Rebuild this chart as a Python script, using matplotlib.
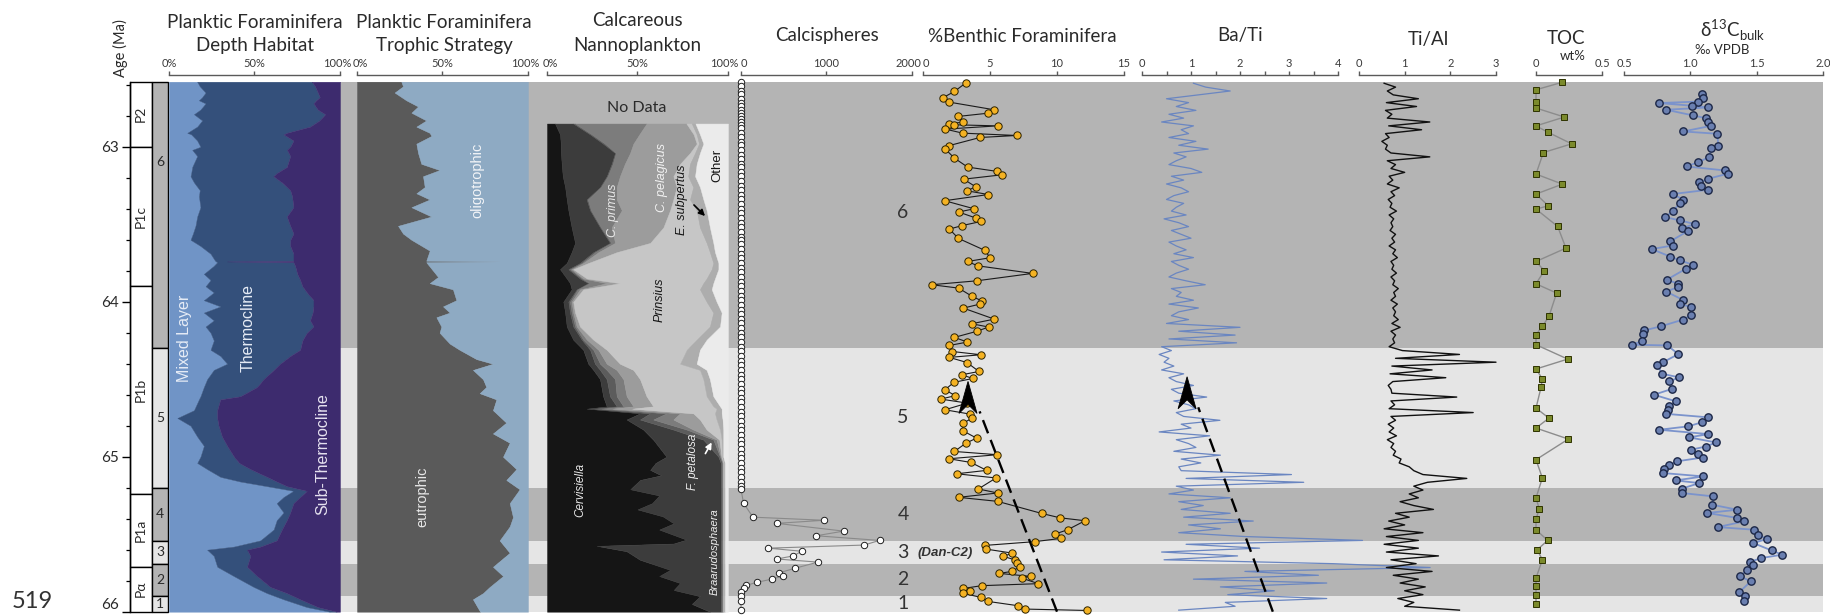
import numpy as np
import matplotlib
matplotlib.use("Agg")
import matplotlib.pyplot as plt
from matplotlib import font_manager as fm
from matplotlib.patches import Rectangle, Polygon, FancyArrowPatch
from matplotlib.transforms import IdentityTransform, ScaledTranslation

# ----------------------------------------------------------------- data ----
# biostratigraphic zones
zone_names = ['P2', 'P1c', 'P1b', 'P1a', 'Pα']
zone_top = [62.58, 63.0, 63.9, 65.24, 65.71]
zone_bottom = [63.0, 63.9, 65.24, 65.71, 66.0]

# intervals (grey bands)
band_labels = ['6', '5', '4', '3', '2', '1']
band_top = [62.58, 64.30, 65.20, 65.545, 65.69, 65.90]
band_bottom = [64.30, 65.20, 65.545, 65.69, 65.90, 66.0]
band_shade = ['dark', 'light', 'dark', 'light', 'dark', 'light']

# planktic foraminifera depth habitat (%)
depth_age = [
    62.58, 62.61, 62.65, 62.68, 62.70, 62.72, 62.76, 62.79, 62.83, 62.87,
    62.91, 62.92, 62.96, 63.00, 63.02, 63.06, 63.13, 63.17, 63.19, 63.23,
    63.28, 63.32, 63.39, 63.45, 63.51, 63.56, 63.60, 63.64, 63.69, 63.736,
    63.740, 63.745, 63.77, 63.82, 63.86, 63.90, 63.94, 63.99, 64.03, 64.07,
    64.12, 64.16, 64.20, 64.25, 64.31, 64.35, 64.40, 64.44, 64.50, 64.55,
    64.61, 64.63, 64.70, 64.72, 64.75, 64.80, 64.87, 64.93, 65.00, 65.04,
    65.08, 65.13, 65.16, 65.19, 65.22, 65.26, 65.30, 65.36, 65.41, 65.47,
    65.54, 65.58, 65.60, 65.64, 65.71, 65.77, 65.84, 65.88, 65.92, 65.97,
    66.00]
mixed_layer = [
    16.5, 18.0, 21.4, 19.4, 17.5, 21.4, 18.4, 14.6, 19.4, 16.5,
    10.7, 13.0, 16.5, 18.4, 13.6, 16.5, 13.6, 13.0, 12.6, 14.6,
    18.0, 17.5, 18.4, 16.5, 15.5, 14.0, 12.6, 18.4, 24.3, 27.0,
    27.5, 28.2, 26.0, 20.4, 24.3, 21.4, 26.2, 20.4, 30.1, 20.4,
    26.2, 21.4, 24.3, 26.2, 24.3, 30.1, 34.0, 26.2, 22.3, 20.4,
    18.4, 17.5, 14.6, 10.7, 4.9, 12.6, 16.5, 20.4, 18.4, 16.5,
    22.3, 30.1, 41.7, 57.3, 72.8, 67.0, 63.0, 67.0, 63.0, 61.2,
    53.4, 37.9, 22.3, 26.2, 28.2, 37.9, 49.5, 57.3, 67.0, 80.6,
    94.0]
thermocline = [
    67.0, 67.4, 65.6, 68.8, 68.5, 63.1, 68.6, 76.7, 68.6, 66.0,
    58.2, 54.0, 56.3, 52.5, 55.4, 54.4, 55.3, 50.0, 48.4, 51.4,
    52.9, 54.5, 54.4, 52.4, 55.4, 58.8, 58.4, 52.5, 48.5, 45.8,
    6.5, 44.6, 47.8, 54.6, 52.4, 56.6, 54.4, 64.1, 54.4, 63.6,
    56.3, 63.1, 56.3, 51.8, 52.4, 40.8, 31.0, 35.0, 33.0, 31.1,
    23.3, 12.5, 13.6, 17.5, 23.3, 16.4, 14.5, 13.6, 19.6, 24.5,
    25.3, 27.2, 21.3, 11.6, 7.8, 9.7, 9.8, 3.9, 5.9, 4.8,
    9.6, 15.5, 23.3, 21.4, 17.4, 13.6, 9.7, 11.6, 9.7, 6.4,
    4.0]
sub_thermocline = [
    16.5, 14.6, 13.0, 11.8, 14.0, 15.5, 13.0, 8.7, 12.0, 17.5,
    31.1, 33.0, 27.2, 29.1, 31.0, 29.1, 31.1, 37.0, 39.0, 34.0,
    29.1, 28.0, 27.2, 31.1, 29.1, 27.2, 29.0, 29.1, 27.2, 27.2,
    66.0, 27.2, 26.2, 25.0, 23.3, 22.0, 19.4, 15.5, 15.5, 16.0,
    17.5, 15.5, 19.4, 22.0, 23.3, 29.1, 35.0, 38.8, 44.7, 48.5,
    58.3, 70.0, 71.8, 71.8, 71.8, 71.0, 69.0, 66.0, 62.0, 59.0,
    52.4, 42.7, 37.0, 31.1, 19.4, 23.3, 27.2, 29.1, 31.1, 34.0,
    37.0, 46.6, 54.4, 52.4, 54.4, 48.5, 40.8, 31.1, 23.3, 13.0,
    2.0]

# planktic foraminifera trophic strategy (% eutrophic)
trophic_age = [
    62.58, 62.61, 62.65, 62.70, 62.74, 62.78, 62.83, 62.87, 62.91, 62.93,
    62.98, 63.04, 63.11, 63.15, 63.19, 63.26, 63.30, 63.34, 63.39, 63.45,
    63.51, 63.56, 63.60, 63.67, 63.735, 63.740, 63.745, 63.84, 63.88, 63.92,
    63.99, 64.03, 64.07, 64.10, 64.16, 64.20, 64.27, 64.31, 64.37, 64.40,
    64.44, 64.50, 64.55, 64.59, 64.63, 64.70, 64.78, 64.85, 64.91, 65.00,
    65.08, 65.15, 65.21, 65.30, 65.39, 65.45, 65.54, 65.62, 65.71, 65.77,
    65.84, 65.88, 65.92, 66.00]
eutrophic = [
    25.9, 26.9, 22.0, 28.8, 35.7, 31.8, 40.5, 34.7, 42.5, 43.5,
    34.7, 35.7, 37.6, 48.3, 38.6, 39.6, 34.7, 42.5, 31.8, 43.5,
    24.0, 26.9, 31.8, 42.5, 40.5, 83.4, 40.5, 47.4, 42.5, 56.1,
    58.1, 50.3, 54.2, 46.4, 49.3, 48.3, 54.2, 60.0, 69.8, 79.5,
    67.8, 73.7, 75.6, 71.7, 81.5, 79.5, 87.3, 79.5, 89.3, 85.4,
    93.2, 87.3, 95.1, 89.3, 91.2, 89.3, 83.4, 89.3, 79.5, 85.4,
    77.6, 73.7, 67.8, 72.0]

# calcareous nannoplankton (%)
nanno_age = [
    62.85, 62.92, 62.98, 63.04, 63.11, 63.19, 63.26, 63.34, 63.41, 63.52,
    63.62, 63.68, 63.75, 63.79, 63.85, 63.88, 63.92, 64.00, 64.07, 64.16,
    64.245, 64.31, 64.40, 64.44, 64.50, 64.61, 64.675, 64.69, 64.72, 64.76,
    64.825, 64.89, 65.00, 65.04, 65.085, 65.12, 65.15, 65.21, 65.25, 65.30,
    65.34, 65.385, 65.43, 65.47, 65.535, 65.56, 65.575, 65.61, 65.665, 65.73,
    65.77, 65.815, 65.86, 65.90, 65.95, 66.00]
cervisiella = [
    4.4, 7.2, 7.6, 7.7, 8.1, 8.7, 10.0, 10.9, 11.8, 13.6,
    15.5, 13.6, 10.9, 7.2, 10.9, 12.7, 13.6, 9.0, 10.0, 10.9,
    14.5, 20.0, 22.8, 25.6, 29.3, 31.0, 33.0, 21.9, 51.4, 44.0,
    53.2, 58.7, 66.0, 60.0, 57.0, 63.0, 51.4, 46.0, 62.0, 58.0,
    50.0, 64.0, 70.0, 62.0, 77.0, 70.0, 27.4, 44.0, 51.4, 68.0,
    62.0, 73.5, 70.0, 84.5, 80.0, 90.0]
braarudosphaera = [
    10.1, 16.6, 23.4, 29.9, 27.6, 24.3, 19.3, 11.0, 12.0, 15.7,
    19.3, 12.0, 7.3, 4.6, 7.3, 10.1, 2.8, 2.8, 2.7, 3.6,
    4.7, 3.8, 3.7, 3.7, 3.7, 3.8, 5.5, 4.1, 5.5, 7.4,
    16.6, 27.7, 28.7, 36.0, 39.0, 33.0, 44.6, 50.0, 34.0, 38.0,
    46.0, 32.0, 26.0, 34.0, 19.0, 26.0, 68.6, 52.0, 44.6, 28.0,
    34.0, 22.5, 26.0, 11.5, 16.0, 6.0]
f_petalosa = [
    1.0, 0.9, 1.0, 0.4, 0.6, 0.5, 0.5, 0.6, 0.5, 0.5,
    0.6, 0.9, 1.0, 0.9, 1.0, 0.6, 0.5, 0.9, 0.9, 1.0,
    0.8, 1.8, 2.8, 3.7, 4.6, 3.7, 3.7, 4.0, 9.1, 7.3,
    7.4, 5.5, 0.9, 0.8, 0.8, 0.8, 0.8, 0.8, 0.8, 0.8,
    0.8, 0.8, 0.8, 0.8, 0.8, 0.8, 0.8, 0.8, 0.8, 0.8,
    0.8, 0.8, 0.8, 0.8, 0.8, 0.8]
c_primus = [
    39.5, 26.3, 15.7, 7.9, 6.7, 6.8, 8.7, 16.0, 17.0, 5.9,
    2.2, 1.9, 0.8, 0.9, 0.8, 9.6, 1.3, 0.9, 0.9, 0.9,
    2.0, 2.8, 3.7, 5.5, 4.6, 5.5, 5.5, 6.0, 7.5, 11.1,
    3.6, 1.8, 0.4, 0.3, 0.3, 0.3, 0.3, 0.3, 0.3, 0.3,
    0.3, 0.3, 0.3, 0.3, 0.3, 0.3, 0.3, 0.3, 0.3, 0.3,
    0.3, 0.3, 0.3, 0.3, 0.3, 0.3]
c_pelagicus = [
    22.0, 30.0, 35.0, 33.1, 30.5, 29.5, 33.1, 31.3, 26.7, 28.6,
    19.4, 10.1, 2.8, 0.9, 2.0, 7.3, 1.8, 0.9, 1.0, 1.8,
    3.6, 4.6, 7.3, 9.2, 9.2, 11.0, 11.0, 11.0, 7.3, 14.7,
    7.4, 1.5, 0.4, 0.3, 0.3, 0.3, 0.3, 0.3, 0.3, 0.3,
    0.3, 0.3, 0.3, 0.3, 0.3, 0.3, 0.3, 0.3, 0.3, 0.3,
    0.3, 0.3, 0.3, 0.3, 0.3, 0.3]
prinsius = [
    3.0, 1.7, 1.3, 2.8, 5.5, 8.2, 9.2, 9.2, 14.7, 20.2,
    31.2, 51.5, 69.1, 76.5, 66.2, 46.1, 64.5, 73.7, 76.4, 71.8,
    57.1, 44.2, 33.2, 36.8, 35.0, 33.2, 33.2, 46.7, 12.0, 9.2,
    7.4, 1.3, 0.4, 0.4, 0.4, 0.4, 0.4, 0.4, 0.4, 0.4,
    0.4, 0.4, 0.4, 0.4, 0.4, 0.4, 0.4, 0.4, 0.4, 0.4,
    0.4, 0.4, 0.4, 0.4, 0.4, 0.4]
e_subpertus = [
    2.0, 1.8, 2.4, 2.7, 3.7, 3.8, 3.7, 7.4, 5.5, 5.5,
    3.7, 2.8, 2.8, 3.7, 4.6, 5.5, 6.5, 5.5, 4.6, 5.6,
    5.5, 7.3, 9.2, 3.7, 3.6, 3.7, 3.7, 2.8, 3.7, 3.3,
    1.8, 0.9, 0.6, 0.5, 0.5, 0.5, 0.5, 0.5, 0.5, 0.5,
    0.5, 0.5, 0.5, 0.5, 0.5, 0.5, 0.5, 0.5, 0.5, 0.5,
    0.5, 0.5, 0.5, 0.5, 0.5, 0.5]
other = [
    18.0, 15.5, 13.6, 15.5, 17.3, 18.2, 15.5, 13.6, 11.8, 10.0,
    8.1, 7.2, 5.3, 5.3, 7.2, 8.1, 9.0, 6.3, 3.5, 4.4,
    11.8, 15.5, 17.3, 11.8, 10.0, 8.1, 4.4, 3.5, 3.5, 3.0,
    2.6, 2.6, 2.6, 1.7, 1.7, 1.7, 1.7, 1.7, 1.7, 1.7,
    1.7, 1.7, 1.7, 1.7, 1.7, 1.7, 1.7, 1.7, 1.7, 1.7,
    1.7, 1.7, 1.7, 1.7, 1.7, 1.7]

# calcispheres (count)
calci_age = [
    62.58, 62.61, 62.64, 62.66, 62.69, 62.72, 62.74, 62.76, 62.78, 62.80,
    62.82, 62.84, 62.86, 62.88, 62.91, 62.94, 62.97, 62.99, 63.02, 63.05,
    63.08, 63.11, 63.13, 63.16, 63.19, 63.22, 63.25, 63.28, 63.31, 63.34,
    63.37, 63.40, 63.43, 63.46, 63.49, 63.52, 63.55, 63.58, 63.60, 63.63,
    63.66, 63.69, 63.72, 63.75, 63.78, 63.81, 63.84, 63.87, 63.90, 63.93,
    63.96, 63.99, 64.02, 64.05, 64.08, 64.11, 64.14, 64.17, 64.20, 64.23,
    64.26, 64.29, 64.32, 64.35, 64.38, 64.41, 64.44, 64.47, 64.50, 64.53,
    64.56, 64.59, 64.62, 64.65, 64.68, 64.71, 64.74, 64.77, 64.80, 64.83,
    64.86, 64.89, 64.92, 64.95, 64.98, 65.01, 65.04, 65.07, 65.10, 65.13,
    65.16, 65.19, 65.21, 65.30, 65.39, 65.41, 65.43, 65.48, 65.51, 65.54,
    65.57, 65.59, 65.61, 65.64, 65.66, 65.68, 65.72, 65.75, 65.77, 65.79,
    65.81, 65.83, 65.85, 65.87, 65.90, 65.93, 65.99]
calci_count = [
    0, 0, 0, 0, 0, 0, 0, 0, 0, 0,
    0, 0, 0, 0, 0, 0, 0, 0, 0, 0,
    0, 0, 0, 0, 0, 0, 0, 0, 0, 0,
    0, 0, 0, 0, 0, 0, 0, 0, 0, 0,
    0, 0, 0, 0, 0, 0, 0, 0, 0, 0,
    0, 0, 0, 0, 0, 0, 0, 0, 0, 0,
    0, 0, 0, 0, 0, 0, 0, 0, 0, 0,
    0, 0, 0, 0, 0, 0, 0, 0, 0, 0,
    0, 0, 0, 0, 0, 0, 0, 0, 0, 0,
    0, 0, 0, 30, 140, 970, 420, 1200, 880, 1620,
    1440, 320, 710, 610, 420, 900, 630, 440, 490, 360,
    190, 60, 30, 0, 0, 0, 0]

# % benthic foraminifera
benthic_age = [
    62.589, 62.643, 62.682, 62.712, 62.761, 62.783, 62.804, 62.841, 62.852, 62.858,
    62.865, 62.886, 62.912, 62.927, 62.940, 62.992, 63.015, 63.073, 63.131, 63.159,
    63.181, 63.209, 63.258, 63.284, 63.308, 63.348, 63.400, 63.421, 63.460, 63.482,
    63.508, 63.531, 63.591, 63.669, 63.716, 63.740, 63.768, 63.817, 63.865, 63.890,
    63.912, 63.966, 63.994, 64.015, 64.041, 64.112, 64.142, 64.163, 64.191, 64.230,
    64.260, 64.282, 64.321, 64.342, 64.359, 64.392, 64.450, 64.471, 64.495, 64.520,
    64.568, 64.606, 64.628, 64.654, 64.697, 64.725, 64.751, 64.783, 64.832, 64.880,
    64.912, 64.966, 64.987, 65.013, 65.037, 65.088, 65.110, 65.137, 65.208, 65.234,
    65.262, 65.288, 65.366, 65.394, 65.413, 65.471, 65.499, 65.527, 65.548, 65.572,
    65.596, 65.622, 65.643, 65.665, 65.686, 65.710, 65.740, 65.753, 65.772, 65.783,
    65.819, 65.832, 65.850, 65.865, 65.880, 65.908, 65.934, 65.961, 65.983, 65.992]
benthic_pct = [
    3.18, 2.34, 1.52, 1.97, 5.30, 4.88, 2.64, 2.96, 1.97, 2.34,
    5.57, 1.67, 2.96, 6.99, 4.25, 1.97, 1.67, 2.34, 3.33, 5.55,
    5.87, 3.03, 3.93, 3.28, 4.88, 1.62, 3.81, 2.66, 3.96, 4.33,
    2.94, 1.97, 2.64, 4.63, 5.00, 3.33, 4.08, 8.18, 4.00, 0.65,
    2.66, 3.68, 4.38, 4.25, 3.01, 5.32, 3.63, 4.90, 4.00, 2.34,
    3.31, 1.97, 2.19, 4.33, 1.97, 3.28, 4.18, 2.89, 3.71, 2.31,
    1.64, 2.41, 1.32, 3.31, 1.64, 3.51, 3.66, 3.01, 2.96, 4.00,
    3.21, 2.34, 5.55, 1.94, 3.58, 4.75, 2.51, 5.45, 4.13, 5.57,
    2.66, 5.57, 8.86, 10.22, 12.09, 10.80, 9.85, 10.30, 8.33, 4.65,
    4.70, 6.67, 6.00, 6.84, 6.99, 7.24, 6.62, 5.70, 8.03, 7.36,
    8.61, 4.38, 3.01, 3.51, 2.96, 4.33, 4.88, 7.06, 7.61, 12.21]
benthic_trend_pct = [10.0, 3.36]
benthic_trend_age = [66.0, 64.514]

# XRF ratios
xrf_age = [
    62.590, 62.615, 62.640, 62.665, 62.690, 62.715, 62.740, 62.765, 62.790, 62.815,
    62.840, 62.865, 62.890, 62.915, 62.940, 62.965, 62.990, 63.015, 63.040, 63.065,
    63.090, 63.115, 63.140, 63.165, 63.190, 63.215, 63.240, 63.265, 63.290, 63.315,
    63.340, 63.365, 63.390, 63.415, 63.440, 63.465, 63.490, 63.515, 63.540, 63.565,
    63.590, 63.615, 63.640, 63.665, 63.690, 63.715, 63.740, 63.765, 63.790, 63.815,
    63.840, 63.865, 63.890, 63.915, 63.940, 63.965, 63.990, 64.015, 64.040, 64.065,
    64.090, 64.115, 64.140, 64.165, 64.190, 64.215, 64.240, 64.265, 64.290, 64.315,
    64.340, 64.365, 64.390, 64.415, 64.440, 64.465, 64.490, 64.515, 64.540, 64.565,
    64.590, 64.615, 64.640, 64.665, 64.690, 64.715, 64.740, 64.765, 64.790, 64.815,
    64.840, 64.865, 64.890, 64.915, 64.940, 64.965, 64.990, 65.015, 65.040, 65.065,
    65.090, 65.115, 65.140, 65.165, 65.190, 65.215, 65.240, 65.265, 65.290, 65.315,
    65.340, 65.365, 65.390, 65.415, 65.440, 65.465, 65.490, 65.515, 65.540, 65.565,
    65.590, 65.615, 65.640, 65.665, 65.690, 65.715, 65.740, 65.765, 65.790, 65.815,
    65.840, 65.865, 65.890, 65.915, 65.940, 65.965, 65.990]
ba_ti = [
    1.05, 1.30, 1.80, 1.15, 0.50, 0.95, 0.70, 1.10, 0.55, 0.85,
    0.40, 1.05, 0.80, 0.95, 0.55, 1.10, 0.75, 1.35, 0.65, 0.90,
    0.70, 0.55, 1.00, 1.22, 0.60, 0.85, 0.50, 0.80, 0.95, 0.65,
    0.50, 0.85, 0.70, 0.60, 0.90, 0.45, 0.75, 0.95, 0.60, 0.80,
    1.00, 0.55, 0.70, 0.90, 0.65, 1.05, 0.60, 0.75, 0.95, 0.70,
    0.55, 0.90, 1.29, 0.60, 0.80, 0.70, 1.05, 0.55, 1.15, 0.75,
    0.60, 0.95, 0.50, 2.00, 0.75, 1.90, 0.55, 1.93, 0.40, 0.60,
    0.35, 0.55, 0.45, 0.65, 0.40, 0.85, 0.55, 0.70, 1.05, 0.60,
    0.75, 1.32, 0.65, 0.95, 1.10, 0.70, 0.85, 1.59, 0.80, 1.00,
    0.35, 1.38, 0.70, 0.95, 1.10, 0.65, 1.60, 0.80, 1.20, 0.75,
    0.80, 3.05, 0.90, 3.30, 0.70, 1.05, 0.55, 1.80, 0.75, 1.25,
    0.80, 1.80, 0.85, 2.27, 0.95, 1.60, 0.75, 2.10, 4.50, 0.90,
    2.40, 0.40, 1.95, 0.45, 3.90, 5.88, 2.10, 3.60, 1.05, 3.77,
    1.60, 2.70, 1.75, 3.77, 1.70, 1.90, 0.75]
ti_al = [
    0.55, 0.80, 0.62, 0.75, 1.30, 0.60, 1.26, 0.58, 0.72, 0.62,
    1.55, 0.65, 1.37, 0.58, 0.66, 0.50, 0.62, 0.58, 0.70, 1.55,
    0.62, 0.80, 0.70, 1.00, 0.66, 0.74, 0.62, 0.88, 0.70, 0.78,
    0.64, 0.72, 0.68, 0.82, 0.66, 0.76, 0.70, 0.74, 0.68, 0.80,
    0.72, 0.78, 0.66, 0.80, 0.74, 0.84, 0.70, 0.76, 0.72, 0.82,
    0.70, 0.78, 0.74, 0.86, 0.76, 0.80, 0.70, 0.84, 0.74, 0.80,
    0.76, 0.86, 0.72, 0.90, 0.70, 0.80, 0.74, 0.78, 0.66, 0.95,
    2.20, 0.80, 3.00, 0.72, 1.60, 0.68, 1.90, 0.74, 0.64, 0.70,
    0.72, 2.14, 0.70, 0.78, 0.66, 2.50, 0.70, 0.80, 0.64, 0.76,
    0.66, 0.82, 0.62, 0.76, 0.70, 0.80, 0.75, 0.92, 0.88, 1.10,
    1.20, 1.40, 2.36, 1.50, 1.20, 1.40, 1.10, 1.30, 0.90, 1.20,
    1.63, 0.80, 1.10, 0.65, 1.00, 0.55, 1.40, 0.60, 1.30, 0.55,
    1.30, 0.60, 1.74, 0.70, 1.25, 0.60, 1.60, 0.75, 1.30, 0.90,
    1.45, 1.00, 1.40, 0.85, 1.20, 1.00, 2.20]
bati_trend = [2.67, 0.92]
bati_trend_age = [66.0, 64.484]

# TOC (wt%)
toc_age = [
    62.585, 62.632, 62.708, 62.750, 62.808, 62.865, 62.905, 62.981, 63.037, 63.176,
    63.241, 63.305, 63.381, 63.402, 63.514, 63.654, 63.740, 63.800, 63.884, 63.944,
    64.095, 64.159, 64.213, 64.277, 64.370, 64.434, 64.497, 64.553, 64.686, 64.751,
    64.815, 64.886, 65.019, 65.137, 65.266, 65.337, 65.402, 65.471, 65.540, 65.600,
    65.665, 65.783, 65.832, 65.890, 65.948]
toc_wt = [
    0.194, 0.0, 0.0, 0.0, 0.215, 0.0, 0.088, 0.270, 0.056, 0.0,
    0.200, 0.0, 0.093, 0.0, 0.164, 0.227, 0.0, 0.063, 0.0, 0.156,
    0.098, 0.048, 0.0, 0.0, 0.240, 0.0, 0.048, 0.038, 0.0, 0.098,
    0.0, 0.245, 0.0, 0.048, 0.0, 0.025, 0.0, 0.0, 0.088, 0.010,
    0.048, 0.0, 0.0, 0.0, 0.0]

# d13C bulk (permil VPDB)
d13c_age = [
    62.660, 62.686, 62.708, 62.718, 62.735, 62.746, 62.761, 62.798, 62.815, 62.843,
    62.865, 62.901, 62.916, 62.992, 63.008, 63.066, 63.099, 63.127, 63.153, 63.174,
    63.206, 63.230, 63.256, 63.277, 63.305, 63.342, 63.363, 63.417, 63.454, 63.475,
    63.499, 63.525, 63.542, 63.611, 63.637, 63.660, 63.708, 63.733, 63.761, 63.787,
    63.858, 63.884, 63.905, 63.934, 63.987, 64.013, 64.034, 64.088, 64.116, 64.159,
    64.185, 64.206, 64.256, 64.277, 64.282, 64.338, 64.389, 64.411, 64.465, 64.488,
    64.514, 64.563, 64.600, 64.643, 64.671, 64.697, 64.723, 64.746, 64.778, 64.804,
    64.826, 64.854, 64.875, 64.908, 64.934, 64.955, 64.981, 65.005, 65.030, 65.056,
    65.079, 65.105, 65.127, 65.153, 65.170, 65.206, 65.234, 65.256, 65.310, 65.342,
    65.363, 65.395, 65.417, 65.454, 65.471, 65.503, 65.531, 65.557, 65.605, 65.632,
    65.654, 65.679, 65.701, 65.729, 65.772, 65.804, 65.875, 65.901, 65.934]
d13c = [
    1.085, 1.098, 1.060, 0.766, 1.010, 1.136, 0.817, 1.023, 1.116, 1.136,
    1.156, 0.947, 1.203, 1.211, 1.156, 1.143, 1.060, 0.972, 1.264, 1.281,
    1.136, 1.068, 1.080, 1.136, 0.867, 0.947, 0.922, 0.867, 0.809, 0.922,
    1.035, 0.935, 0.985, 0.847, 0.867, 0.709, 0.847, 0.922, 1.018, 0.967,
    0.822, 0.910, 0.910, 0.817, 0.942, 0.922, 1.003, 1.003, 0.942, 0.776,
    0.653, 0.641, 0.633, 0.558, 0.827, 0.910, 0.796, 0.751, 0.789, 0.915,
    0.842, 0.859, 0.726, 0.892, 0.842, 0.834, 0.814, 1.136, 1.085, 0.985,
    0.766, 1.136, 0.992, 1.193, 1.116, 1.005, 1.055, 1.093, 0.897, 0.842,
    0.804, 0.791, 1.098, 0.889, 1.068, 0.935, 0.935, 1.173, 1.166, 1.354,
    1.128, 1.354, 1.407, 1.206, 1.480, 1.513, 1.575, 1.475, 1.613, 1.693,
    1.533, 1.450, 1.475, 1.430, 1.374, 1.457, 1.367, 1.412, 1.407]

# ---------------------------------------------------------------- style ----
names = {f.name for f in fm.fontManager.ttflist}
CAL = 'Liberation Sans Narrow' if 'Liberation Sans Narrow' in names else 'Lato'
ARI = 'Liberation Sans'

DARK, LIGHT = '#b4b4b4', '#e5e5e5'
C_MIX, C_THERMO, C_SUB = '#7094c6', '#34507b', '#3d2b6e'
C_EUT, C_OLI = '#5a5a5a', '#8eaac3'
NANNO_COLORS = ['#151515', '#3c3c3c', '#5c5c5c', '#7c7c7c', '#9c9c9c',
                '#c6c6c6', '#adadad', '#ebebeb']
TEXT = '#2a2a2a'

W, H = 1831, 615
fig = plt.figure(figsize=(W / 100, H / 100), dpi=100)
fig.patch.set_facecolor('white')
Y0, Y1 = 81.7, 611.7
AGE_MIN, AGE_MAX = 62.58, 66.0


def add_ax(x0, x1, z=1):
    ax = fig.add_axes([x0 / W, 1 - Y1 / H, (x1 - x0) / W, (Y1 - Y0) / H])
    ax.set_ylim(AGE_MAX, AGE_MIN)
    ax.patch.set_visible(False)
    ax.set_zorder(z)
    return ax


def top_axis(ax, lim, ticks, labels, minor=None, shift_first=0, shift_last=0):
    ax.set_xlim(*lim)
    for s in ('left', 'right', 'bottom'):
        ax.spines[s].set_visible(False)
    sp = ax.spines['top']
    sp.set_position(('outward', 5))
    sp.set_color('#5a5a5a')
    sp.set_linewidth(1.0)
    ax.xaxis.set_ticks_position('top')
    ax.set_xticks(ticks)
    ax.set_xticklabels(labels)
    if minor is not None:
        ax.set_xticks(minor, minor=True)
    ax.tick_params(axis='x', which='both', direction='out', length=3, width=1.0,
                   color='#5a5a5a', labelsize=8, labelcolor='#3a3a3a', pad=1.5,
                   labelfontfamily=CAL)
    ax.tick_params(axis='y', left=False, labelleft=False)
    ticks_major = ax.xaxis.get_major_ticks()
    for tk, dx in ((ticks_major[0], shift_first), (ticks_major[-1], shift_last)):
        if dx:
            lab = tk.label2
            lab.set_transform(lab.get_transform() +
                              ScaledTranslation(dx / 100, 0, fig.dpi_scale_trans))


def ptext(x, y, s, **kw):
    kw.setdefault('ha', 'center')
    kw.setdefault('va', 'center')
    kw.setdefault('color', TEXT)
    fig.text(x / W, 1 - y / H, s, **kw)


def trend_arrow(ax, xs, ages, frac=0.87, length=32, half_w=9, notch=9):
    """dashed trend line ending in an upward pointing stealth arrow head"""
    x_end = xs[0] + (xs[1] - xs[0]) * frac
    a_end = ages[0] + (ages[1] - ages[0]) * frac
    ax.plot([xs[0], x_end], [ages[0], a_end], color='black', lw=1.7,
            dashes=(6, 3), zorder=2.5, clip_on=False)
    tip = ax.transData.transform((xs[1], ages[1]))
    d = np.array([0.0, 1.0])
    n = np.array([1.0, 0.0])
    b = tip - d * length
    pts = [tip, b + n * half_w, tip - d * (length - notch), b - n * half_w]
    ax.add_patch(Polygon(pts, closed=True, transform=IdentityTransform(),
                         fc='black', ec='black', lw=0.6, zorder=10, clip_on=False))


# ------------------------------------------------------- background bands --
bg = add_ax(340, 1823, z=0)
bg.set_xlim(0, 1)
for t, b, s in zip(band_top, band_bottom, band_shade):
    bg.axhspan(t, b, color=DARK if s == 'dark' else LIGHT, lw=0)
bg.axis('off')

# ------------------------------------------------ zones and age axis -------
zax = add_ax(130, 152)
zax.set_xlim(0, 1)
for nm, t, b in zip(zone_names, zone_top, zone_bottom):
    zax.add_patch(Rectangle((0, t), 1, b - t, fc='white', ec='black', lw=1.0,
                            clip_on=False))
    zax.text(0.5, (t + b) / 2, nm, rotation=90, ha='center', va='center',
             fontsize=10, family=CAL, color=TEXT)
for s in ('top', 'right', 'bottom'):
    zax.spines[s].set_visible(False)
zax.spines['left'].set_linewidth(1.0)
zax.set_xticks([])
zax.set_yticks([63, 64, 65, 66])
zax.set_yticklabels(['63', '64', '65', '66'])
zax.set_yticks(np.arange(62.6, 66.01, 0.2), minor=True)
zax.tick_params(axis='y', which='major', length=6, width=1.0, labelsize=11,
                labelcolor=TEXT, pad=2, labelfontfamily=CAL)
zax.tick_params(axis='y', which='minor', length=3, width=0.9)
for lab in zax.get_yticklabels():
    if lab.get_text() == '66':
        lab.set_verticalalignment('bottom')

nax = add_ax(152, 168)
nax.set_xlim(0, 1)
for lbl, t, b, s in zip(band_labels, band_top, band_bottom, band_shade):
    nax.add_patch(Rectangle((0, t), 1, b - t, fc=DARK if s == 'dark' else LIGHT,
                            ec='black', lw=1.0, clip_on=False))
    ymid = t + 0.52 if (b - t) > 1.5 else (t + b) / 2
    nax.text(0.5, ymid, lbl, ha='center', va='center', fontsize=10,
             family=CAL, color=TEXT)
nax.axis('off')
ptext(120, 48, 'Age (Ma)', rotation=90, fontsize=10.5, family=CAL)
ptext(32, 602, '519', fontsize=17, family=CAL, color='#333333')

# ------------------------------------------------ depth habitat ------------
ax = add_ax(169, 340)
da = np.array(depth_age)
stack = np.cumsum(np.vstack([mixed_layer, thermocline, sub_thermocline]), axis=0)
ax.fill_betweenx(da, 0, stack[0], color=C_MIX, lw=0.3)
ax.fill_betweenx(da, stack[0], stack[1], color=C_THERMO, lw=0.3)
ax.fill_betweenx(da, stack[1], 100, color=C_SUB, lw=0.3)
top_axis(ax, (0, 100), [0, 50, 100], ['0%', '50%', '100%'], shift_last=-3)
ptext(255, 23, 'Planktic Foraminifera', fontsize=13.5, family=CAL)
ptext(255, 46, 'Depth Habitat', fontsize=13.5, family=CAL)
ptext(185, 338, 'Mixed Layer', rotation=90, fontsize=11.5, family=ARI, color='#e6ecf6')
ptext(248, 328, 'Thermocline', rotation=90, fontsize=11.5, family=ARI, color='#e6ecf6')
ptext(323, 454, 'Sub-Thermocline', rotation=90, fontsize=11.5, family=ARI, color='#e6e2f0')

# ------------------------------------------------ trophic strategy ---------
ax = add_ax(357, 528)
ta = np.array(trophic_age)
eu = np.array(eutrophic)
ax.fill_betweenx(ta, 0, eu, color=C_EUT, lw=0.3)
ax.fill_betweenx(ta, eu, 100, color=C_OLI, lw=0.3)
top_axis(ax, (0, 100), [0, 50, 100], ['0%', '50%', '100%'], shift_first=3, shift_last=-3)
ptext(444, 23, 'Planktic Foraminifera', fontsize=13.5, family=CAL)
ptext(444, 46, 'Trophic Strategy', fontsize=13.5, family=CAL)
ptext(477, 180, 'oligotrophic', rotation=90, fontsize=10.5, family=ARI, color='#f2f4f7')
ptext(422, 497, 'eutrophic', rotation=90, fontsize=10.5, family=ARI, color='#e8e8e8')

# ------------------------------------------------ nannoplankton ------------
ax = add_ax(547, 728)
na = np.array(nanno_age)
layers = np.vstack([cervisiella, braarudosphaera, f_petalosa, c_primus,
                    c_pelagicus, prinsius, e_subpertus, other])
cum = np.cumsum(layers, axis=0)
prev = np.zeros_like(na)
for i in range(cum.shape[0]):
    ax.fill_betweenx(na, prev, cum[i], color=NANNO_COLORS[i], lw=0.3)
    prev = cum[i]
top_axis(ax, (0, 100), [0, 50, 100], ['0%', '50%', '100%'], shift_first=3, shift_last=-4)
ptext(637, 21, 'Calcareous', fontsize=13.5, family=CAL)
ptext(637, 45, 'Nannoplankton', fontsize=13.5, family=CAL)
ptext(637, 108, 'No Data', fontsize=11.5, family=CAL)
ptext(613, 210, 'C. primus', rotation=90, fontsize=9, family=ARI, style='italic', color='#e8e8e8')
ptext(662, 177, 'C. pelagicus', rotation=90, fontsize=9, family=ARI, style='italic', color='#f2f2f2')
ptext(682, 200, 'E. subpertus', rotation=90, fontsize=9, family=ARI, style='italic', color='#151515')
ptext(717, 165, 'Other', rotation=90, fontsize=9.5, family=ARI, color='#151515')
ptext(660, 300, 'Prinsius', rotation=90, fontsize=9, family=ARI, style='italic', color='#151515')
ptext(580, 490, 'Cervisiella', rotation=90, fontsize=8.5, family=ARI, style='italic', color='#e6e6e6')
ptext(693, 462, 'F. petalosa', rotation=90, fontsize=8.5, family=ARI, style='italic', color='#eeeeee')
ptext(715, 552, 'Braarudosphaera', rotation=90, fontsize=8, family=ARI, style='italic', color='#eeeeee')
fig.add_artist(FancyArrowPatch((692 / W, 1 - 203 / H), (707 / W, 1 - 218 / H),
                               transform=fig.transFigure, arrowstyle='-|>',
                               mutation_scale=9, color='black', lw=1.2, zorder=5))
fig.add_artist(FancyArrowPatch((704 / W, 1 - 456 / H), (713 / W, 1 - 440 / H),
                               transform=fig.transFigure, arrowstyle='-|>',
                               mutation_scale=9, color='white', lw=1.2, zorder=5))

# ------------------------------------------------ calcispheres -------------
ax = add_ax(741, 912)
ax.plot(calci_count, calci_age, '-', color='#8a8a8a', lw=0.8, zorder=2, clip_on=False)
ax.plot(calci_count, calci_age, 'o', mfc='white', mec='#1e1e1e', mew=0.7, ms=4.6,
        zorder=3, clip_on=False)
top_axis(ax, (0, 2000), [0, 1000, 2000], ['0', '1000', '2000'],
         shift_first=3, shift_last=-4)
ptext(827, 35, 'Calcispheres', fontsize=13.5, family=CAL)

# interval numbers
ptext(903, 213, '6', fontsize=14, family=CAL, color='#333333')
for lbl, t, b in zip(band_labels[1:], band_top[1:], band_bottom[1:]):
    ypx = Y0 + ((t + b) / 2 - AGE_MIN) / (AGE_MAX - AGE_MIN) * (Y1 - Y0)
    ptext(903, ypx, lbl, fontsize=14, family=CAL, color='#333333')
ptext(945, 553, '(Dan-C2)', fontsize=9.5, family=ARI, weight='bold', style='italic',
      color='#333333')

# ------------------------------------------------ benthic forams ----------
ax = add_ax(923, 1124)
ax.plot(benthic_pct, benthic_age, '-', color='#1a1a1a', lw=0.8, zorder=2, clip_on=False)
ax.plot(benthic_pct, benthic_age, 'o', mfc='#f4b223', mec='#2b2200', mew=0.7, ms=5.3,
        zorder=3, clip_on=False)
top_axis(ax, (0, 15), [0, 5, 10, 15], ['0', '5', '10', '15'], shift_first=3)
ptext(1022, 36, '%Benthic Foraminifera', fontsize=13.5, family=CAL)
trend_arrow(ax, benthic_trend_pct, benthic_trend_age)

# ------------------------------------------------ Ba/Ti --------------------
ax = add_ax(1142, 1338)
ax.plot(ba_ti, xrf_age, color='#6a86c1', lw=0.9, zorder=2, clip_on=False)
top_axis(ax, (0, 4), [0, 1, 2, 3, 4], ['0', '1', '2', '3', '4'],
         minor=[0.5, 1.5, 2.5, 3.5])
ptext(1240, 35, 'Ba/Ti', fontsize=13.5, family=CAL)
trend_arrow(ax, bati_trend, bati_trend_age)

# ------------------------------------------------ Ti/Al --------------------
ax = add_ax(1359, 1496)
ax.plot(ti_al, xrf_age, color='#111111', lw=1.0, zorder=2, clip_on=False)
top_axis(ax, (0, 3), [0, 1, 2, 3], ['0', '1', '2', '3'])
ptext(1428, 40, 'Ti/Al', fontsize=13.5, family=CAL)

# ------------------------------------------------ TOC ----------------------
ax = add_ax(1536, 1602)
ax.plot(toc_wt, toc_age, '-', color='#8c8c8c', lw=1.0, zorder=2, clip_on=False)
ax.plot(toc_wt, toc_age, 's', mfc='#7b8a2c', mec='#2e3300', mew=0.7, ms=5.0,
        zorder=3, clip_on=False)
top_axis(ax, (0, 0.5), [0, 0.5], ['0', '0.5'])
ptext(1566, 38, 'TOC', fontsize=13.5, family=CAL)
ptext(1573, 56, 'wt%', fontsize=9.5, family=CAL)

# ------------------------------------------------ d13C ---------------------
ax = add_ax(1624, 1823)
ax.plot(d13c, d13c_age, '-', color='#7b93cc', lw=1.3, zorder=2, clip_on=False)
ax.plot(d13c, d13c_age, 'o', mfc='#6a7fb0', mec='#1c2747', mew=1.0, ms=5.3,
        zorder=3, clip_on=False)
top_axis(ax, (0.5, 2.0), [0.5, 1.0, 1.5, 2.0], ['0.5', '1.0', '1.5', '2.0'])
ptext(1733, 30, r'δ$^{\mathregular{13}}$C$_{\mathregular{bulk}}$', fontsize=13.5, family=CAL)
ptext(1722, 50, '‰ VPDB', fontsize=9.5, family=CAL)

fig.savefig('out.png', dpi=100)
